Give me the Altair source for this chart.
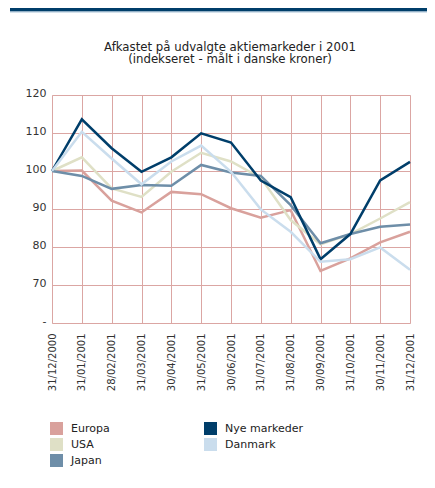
import altair as alt
import pandas as pd

dates = ["31/12/2000", "31/01/2001", "28/02/2001", "31/03/2001", "30/04/2001",
         "31/05/2001", "30/06/2001", "31/07/2001", "31/08/2001", "30/09/2001",
         "31/10/2001", "30/11/2001", "31/12/2001"]

europa = [100, 100.1, 92.2, 89.1, 94.5, 93.9, 90.2, 87.7, 89.7, 73.7, 77.0, 81.2, 84.0]
usa = [100, 103.6, 95.4, 93.2, 99.8, 104.8, 102.5, 98.2, 87.1, 80.7, 83.4, 87.5, 91.8]
japan = [100, 98.7, 95.3, 96.3, 96.1, 101.6, 99.6, 98.7, 91.0, 81.0, 83.4, 85.3, 85.9]
nye = [100, 113.6, 106.0, 99.8, 103.6, 109.9, 107.5, 97.5, 93.1, 76.8, 83.4, 97.5, 102.4]
danmark = [100, 110.3, 103.3, 96.5, 102.5, 106.7, 99.8, 89.9, 84.0, 76.1, 76.8, 79.9, 74.0]

series_names = ["Europa", "USA", "Japan", "Nye markeder", "Danmark"]
series_values = [europa, usa, japan, nye, danmark]
series_colors = ["#d9a19c", "#dfe0c6", "#6e8ea8", "#003e6a", "#cadded"]

title_lines = ["Afkastet på udvalgte aktiemarkeder i 2001",
               "(indekseret - målt i danske kroner)"]

rows = []
for name, vals in zip(series_names, series_values):
    for i, (d, v) in enumerate(zip(dates, vals)):
        rows.append({"Dato": d, "Serie": name, "Indeks": v, "i": i})
df = pd.DataFrame(rows)

FONT = "DejaVu Sans"
W, H = 358, 228
color_scale = alt.Scale(domain=series_names, range=series_colors)

lines = alt.Chart(df).mark_line(strokeWidth=2.5).encode(
    x=alt.X("Dato:N", sort=dates, title=None,
            scale=alt.Scale(type="point", padding=0),
            axis=alt.Axis(labelAngle=-90, labelFont=FONT, labelFontSize=10,
                          labelColor="#333333", labelPadding=10, tickSize=0,
                          domain=False, grid=True, gridColor="#dba6a3",
                          gridWidth=1, gridOpacity=1)),
    y=alt.Y("Indeks:Q", title=None,
            scale=alt.Scale(domain=[60, 120], nice=False, zero=False),
            axis=alt.Axis(values=[60, 70, 80, 90, 100, 110, 120],
                          labelExpr="datum.value == 60 ? '-' : datum.label",
                          labelFont=FONT, labelFontSize=11, labelColor="#333333",
                          labelPadding=6, labelOffset=-1.5, tickSize=0,
                          domain=False, grid=True,
                          gridColor="#dba6a3", gridWidth=1, gridOpacity=1)),
    color=alt.Color("Serie:N", scale=color_scale, legend=None),
    detail="Serie:N",
    order="i:Q",
)

legend_df = pd.DataFrame({"Serie": series_names})
legend_layer = alt.Chart(legend_df).mark_square(filled=True, size=169, opacity=1).encode(
    x=alt.value(0), y=alt.value(-2000),
    color=alt.Color("Serie:N", scale=color_scale,
                    legend=alt.Legend(
                        title=None, orient="none", legendX=-2, legendY=327,
                        columns=2, columnPadding=94, rowPadding=3,
                        symbolType="square", symbolSize=169,
                        symbolStrokeWidth=0, symbolOpacity=1,
                        labelFont=FONT, labelFontSize=11, labelColor="#222222",
                        labelOffset=8)),
)

one = pd.DataFrame({"a": [0]})
top_bar = alt.Chart(one).mark_rule(color="#003e6a", strokeWidth=3.5).encode(
    x=alt.value(-42), x2=alt.value(W + 20), y=alt.value(-85.2))
top_line = alt.Chart(one).mark_rule(color="#a9c3d8", strokeWidth=1).encode(
    x=alt.value(-42), x2=alt.value(W + 20), y=alt.value(-83))

title_df = pd.DataFrame({"t": title_lines})
title1 = alt.Chart(title_df.iloc[[0]]).mark_text(
    font=FONT, fontSize=11.75, color="#222222", align="center", baseline="middle"
).encode(text="t:N", x=alt.value(W / 2 - 1), y=alt.value(-48.5))
title2 = alt.Chart(title_df.iloc[[1]]).mark_text(
    font=FONT, fontSize=11.75, color="#222222", align="center", baseline="middle"
).encode(text="t:N", x=alt.value(W / 2 - 1), y=alt.value(-36))

chart = alt.layer(top_bar, top_line, title1, title2, lines, legend_layer).resolve_scale(
    color="independent"
).properties(
    width=W, height=H,
    autosize=alt.AutoSizeParams(type="none"),
    padding={"left": 44, "top": 87, "right": 17, "bottom": 157},
).configure_view(stroke="#e8c2c0", strokeWidth=2).configure(background="white")

chart.save("out.html", embed_options={"renderer": "svg", "actions": False})
